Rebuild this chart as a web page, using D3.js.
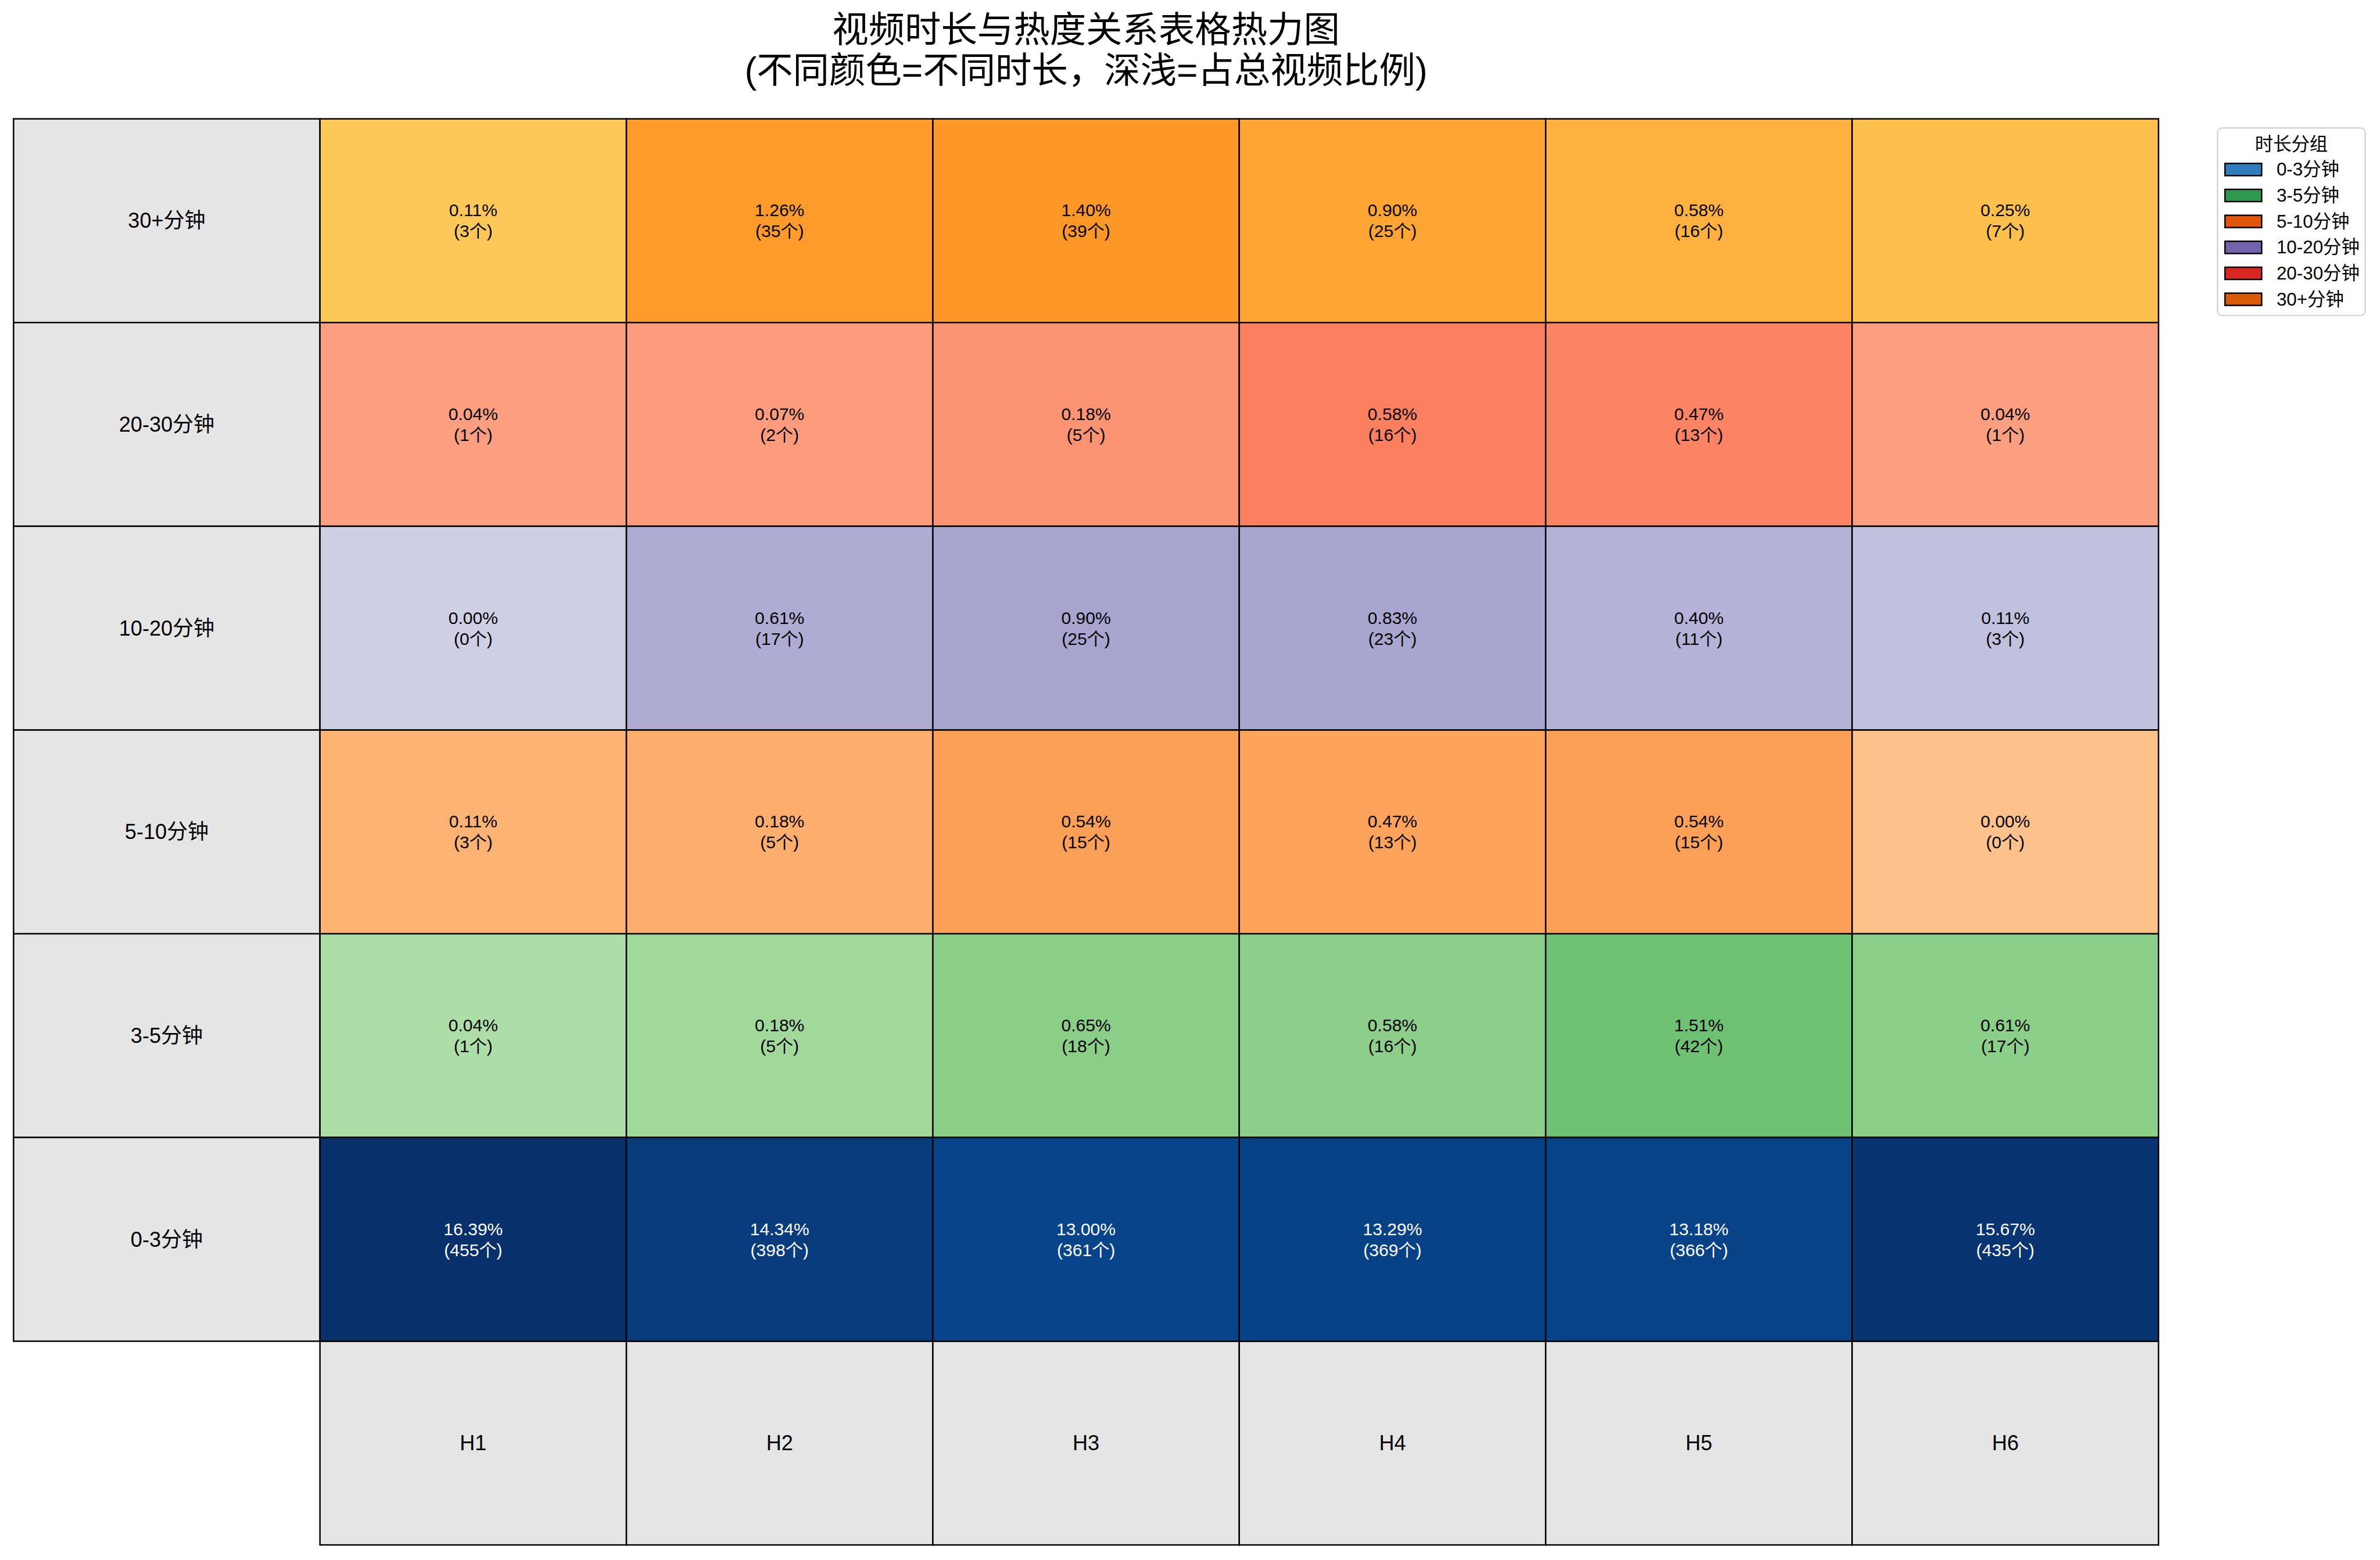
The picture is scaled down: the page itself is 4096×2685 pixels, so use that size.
<!DOCTYPE html>
<html><head><meta charset="utf-8">
<script src="https://cdn.jsdelivr.net/npm/d3@7"></script>
<style>html,body{margin:0;padding:0;background:#fff;}svg{display:block;}</style>
</head><body>
<script>
// ---- data ----
const durationGroups = ["30+分钟","20-30分钟","10-20分钟","5-10分钟","3-5分钟","0-3分钟"]; // top to bottom
const heatLevels = ["H1","H2","H3","H4","H5","H6"];
const pct30plus = [0.11,1.26,1.40,0.90,0.58,0.25];
const cnt30plus = [3,35,39,25,16,7];
const pct20_30 = [0.04,0.07,0.18,0.58,0.47,0.04];
const cnt20_30 = [1,2,5,16,13,1];
const pct10_20 = [0.00,0.61,0.90,0.83,0.40,0.11];
const cnt10_20 = [0,17,25,23,11,3];
const pct5_10 = [0.11,0.18,0.54,0.47,0.54,0.00];
const cnt5_10 = [3,5,15,13,15,0];
const pct3_5 = [0.04,0.18,0.65,0.58,1.51,0.61];
const cnt3_5 = [1,5,18,16,42,17];
const pct0_3 = [16.39,14.34,13.00,13.29,13.18,15.67];
const cnt0_3 = [455,398,361,369,366,435];
const legendOrder = ["0-3分钟","3-5分钟","5-10分钟","10-20分钟","20-30分钟","30+分钟"];
const titleLines = ["视频时长与热度关系表格热力图","(不同颜色=不同时长，深浅=占总视频比例)"];
const legendTitle = "时长分组";

// colormaps (ColorBrewer 9-class, linear like matplotlib)
const cmaps = {
  "0-3分钟": ["#f7fbff","#deebf7","#c6dbef","#9ecae1","#6baed6","#4292c6","#2171b5","#08519c","#08306b"],
  "3-5分钟": ["#f7fcf5","#e5f5e0","#c7e9c0","#a1d99b","#74c476","#41ab5d","#238b45","#006d2c","#00441b"],
  "5-10分钟": ["#fff5eb","#fee6ce","#fdd0a2","#fdae6b","#fd8d3c","#f16913","#d94801","#a63603","#7f2704"],
  "10-20分钟": ["#fcfbfd","#efedf5","#dadaeb","#bcbddc","#9e9ac8","#807dba","#6a51a3","#54278f","#3f007d"],
  "20-30分钟": ["#fff5f0","#fee0d2","#fcbba1","#fc9272","#fb6a4a","#ef3b2c","#cb181d","#a50f15","#67000d"],
  "30+分钟": ["#ffffe5","#fff7bc","#fee391","#fec44f","#fe9929","#ec7014","#cc4c02","#993404","#662506"]
};

const pctRows = [pct30plus,pct20_30,pct10_20,pct5_10,pct3_5,pct0_3];
const cntRows = [cnt30plus,cnt20_30,cnt10_20,cnt5_10,cnt3_5,cnt0_3];

const S = 0.752;
const W = 4096, H = 2685;
const FONT = "'Liberation Sans','Noto Sans CJK SC','Noto Sans',sans-serif";

const svg = d3.select("body").append("svg").attr("width",W).attr("height",H)
  .style("font-family",FONT);

const colKeys = ["__label"].concat(heatLevels);
const rowKeys = durationGroups.concat(["__header"]);
const x = d3.scaleBand().domain(colKeys).range([31*S, 4940*S]).padding(0);
const y = d3.scaleBand().domain(rowKeys).range([272*S, 3536*S]).padding(0);

const cmapScale = {};
for (const k in cmaps) {
  cmapScale[k] = d3.scaleLinear().domain(d3.range(9).map(i=>i/8)).range(cmaps[k]).interpolate(d3.interpolateRgb).clamp(true);
}
const maxPct = d3.max(pctRows.flat());
const intensity = v => 0.3 + 0.7*Math.sqrt(v/maxPct);

const cells = [];
durationGroups.forEach((g,ri)=>{
  heatLevels.forEach((h,ci)=>{
    cells.push({g,h,pct:pctRows[ri][ci],cnt:cntRows[ri][ci]});
  });
});

const sw = 3.3*S;
const grid = svg.append("g");
// row label cells
grid.selectAll("rect.rl").data(durationGroups).join("rect")
  .attr("x",x("__label")).attr("y",d=>y(d)).attr("width",x.bandwidth()).attr("height",y.bandwidth())
  .attr("fill","#e5e5e5").attr("stroke","#000").attr("stroke-width",sw);
grid.selectAll("text.rl").data(durationGroups).join("text")
  .attr("x",x("__label")+x.bandwidth()/2).attr("y",d=>y(d)+y.bandwidth()/2)
  .attr("text-anchor","middle").attr("dominant-baseline","central")
  .attr("font-size",48*S).attr("fill","#000").text(d=>d);
// column header cells
grid.selectAll("rect.ch").data(heatLevels).join("rect")
  .attr("x",d=>x(d)).attr("y",y("__header")).attr("width",x.bandwidth()).attr("height",y.bandwidth())
  .attr("fill","#e5e5e5").attr("stroke","#000").attr("stroke-width",sw);
grid.selectAll("text.ch").data(heatLevels).join("text")
  .attr("x",d=>x(d)+x.bandwidth()/2).attr("y",y("__header")+y.bandwidth()/2)
  .attr("text-anchor","middle").attr("dominant-baseline","central")
  .attr("font-size",48*S).attr("fill","#000").text(d=>d);
// data cells
grid.selectAll("rect.c").data(cells).join("rect")
  .attr("x",d=>x(d.h)).attr("y",d=>y(d.g)).attr("width",x.bandwidth()).attr("height",y.bandwidth())
  .attr("fill",d=>cmapScale[d.g](intensity(d.pct))).attr("stroke","#000").attr("stroke-width",sw);
const ct = grid.selectAll("text.c").data(cells).join("text")
  .attr("text-anchor","middle").attr("font-size",40*S)
  .attr("fill",d=>d.g==="0-3分钟"?"#fff":"#000");
ct.append("tspan").attr("x",d=>x(d.h)+x.bandwidth()/2).attr("y",d=>y(d.g)+y.bandwidth()/2-24*S)
  .attr("dominant-baseline","central").text(d=>d.pct.toFixed(2)+"%");
ct.append("tspan").attr("x",d=>x(d.h)+x.bandwidth()/2).attr("y",d=>y(d.g)+y.bandwidth()/2+24*S)
  .attr("dominant-baseline","central").text(d=>"("+d.cnt+"个)");

// title
const cx = (31+4940)/2*S;
svg.selectAll("text.title").data(titleLines).join("text")
  .attr("x",cx).attr("y",(d,i)=>(i===0?68:161)*S)
  .attr("text-anchor","middle").attr("dominant-baseline","central")
  .attr("font-size",83*S).attr("fill","#000").text(d=>d);

// legend
const lg = svg.append("g");
lg.append("rect").attr("x",5075*S).attr("y",293*S).attr("width",(5413-5075)*S).attr("height",(722-293)*S)
  .attr("rx",10*S).attr("fill","#fff").attr("stroke","#d6d6d6").attr("stroke-width",3.3*S);
lg.append("text").attr("x",5244*S).attr("y",330*S).attr("text-anchor","middle").attr("dominant-baseline","central")
  .attr("font-size",41.7*S).text(legendTitle);
const ly = d3.scaleLinear().domain([0,legendOrder.length-1]).range([388*S,685*S]);
lg.selectAll("rect.h").data(legendOrder).join("rect")
  .attr("x",5092*S).attr("y",(d,i)=>ly(i)-14*S).attr("width",84*S).attr("height",28*S)
  .attr("fill",d=>cmapScale[d](0.7)).attr("stroke","#000").attr("stroke-width",3.3*S);
lg.selectAll("text.l").data(legendOrder).join("text")
  .attr("x",5210*S).attr("y",(d,i)=>ly(i)).attr("dominant-baseline","central")
  .attr("font-size",41.7*S).text(d=>d);
</script>
</body></html>
